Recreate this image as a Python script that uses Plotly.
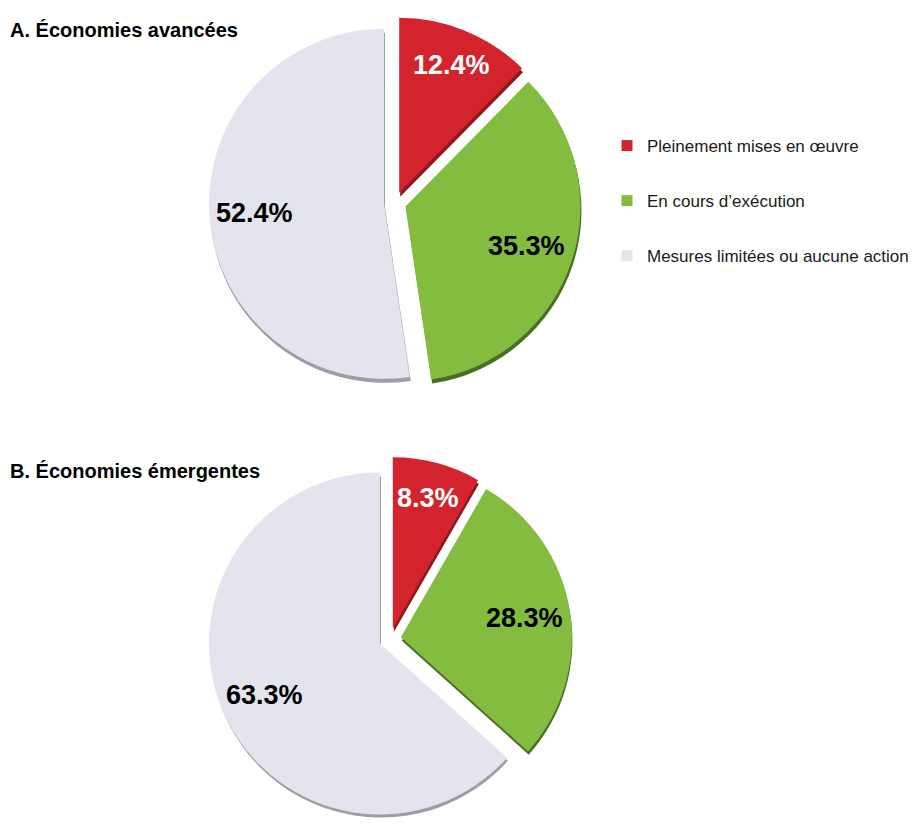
import math
import plotly.graph_objects as go

# Statut de mise en œuvre des mesures, en % des économies
categories = ["Pleinement mises en œuvre", "En cours d’exécution", "Mesures limitées ou aucune action"]
avancees = [12.4, 35.3, 52.4]
emergentes = [8.3, 28.3, 63.3]
panel_titles = ["A. Économies avancées", "B. Économies émergentes"]

colors = ["#d3242d", "#83bc3f", "#e3e4ee"]
side_colors = ["#8c1b1f", "#4c6d24", "#9c9da6"]
label_colors = ["white", "black", "black"]

W, H = 916, 824
FONT = "Liberation Sans, Arial, sans-serif"

# pie geometry in pixels: centre x, centre y, radius, explode (px)
geoms = [
    dict(cx=395, cy=203, r=175, pull=11),
    dict(cx=390, cy=639, r=171, pull=11),
]
depth = (1, 4)  # offset of the darker 3D side
label_radius = [0.79, 0.73, 0.74]  # fraction of radius, measured from the exploded apex


def domain(cx, cy, r, pull):
    half = r + pull
    x0, x1 = (cx - half) / W, (cx + half) / W
    y0, y1 = 1 - (cy + half) / H, 1 - (cy - half) / H
    return dict(x=[max(0, x0), min(1, x1)], y=[max(0, y0), min(1, y1)])


fig = go.Figure()

annotations = []
for k, (vals, g, title) in enumerate(zip([avancees, emergentes], geoms, panel_titles)):
    pull = g["pull"] / g["r"]
    # darker copy underneath, shifted down to give the slices some thickness
    fig.add_trace(go.Pie(
        labels=categories, values=vals, sort=False, direction="clockwise", rotation=0,
        pull=[pull] * 3, marker=dict(colors=side_colors, line=dict(width=0)),
        textinfo="none", hoverinfo="skip", showlegend=False,
        domain=domain(g["cx"] + depth[0], g["cy"] + depth[1], g["r"], g["pull"]),
    ))
    fig.add_trace(go.Pie(
        labels=categories, values=vals, sort=False, direction="clockwise", rotation=0,
        pull=[pull] * 3, marker=dict(colors=colors, line=dict(width=0)),
        textinfo="none", hovertemplate="%{label}: %{value:.1f}%<extra></extra>",
        showlegend=False, domain=domain(g["cx"], g["cy"], g["r"], g["pull"]),
    ))

    # value labels placed along each slice's bisector
    total = sum(vals)
    cum = 0.0
    for i, v in enumerate(vals):
        mid = (cum + v / 2) / total * 2 * math.pi
        cum += v
        dx, dy = math.sin(mid), -math.cos(mid)
        dist = g["pull"] + label_radius[i] * g["r"]
        px, py = g["cx"] + dx * dist, g["cy"] + dy * dist
        annotations.append(dict(
            x=px / W, y=1 - py / H, xref="paper", yref="paper",
            xanchor="center", yanchor="middle", showarrow=False,
            text=f"{v:.1f}%",
            font=dict(family=FONT, size=27, color=label_colors[i], weight="bold"),
        ))

    annotations.append(dict(
        x=8 / W, y=1 - [30, 471][k] / H, xref="paper", yref="paper",
        xanchor="left", yanchor="middle", showarrow=False, text=title,
        font=dict(family=FONT, size=20, color="black", weight="bold"),
    ))

# legend entries
for name, c in zip(categories, colors):
    fig.add_trace(go.Scatter(
        x=[None], y=[None], mode="markers", name=name, legendgroup=name,
        marker=dict(symbol="square", size=11, color=c, line=dict(width=0)),
    ))

fig.update_layout(
    width=W, height=H,
    margin=dict(l=0, r=0, t=0, b=0, autoexpand=False),
    paper_bgcolor="white", plot_bgcolor="white",
    xaxis=dict(visible=False), yaxis=dict(visible=False),
    annotations=annotations,
    showlegend=True,
    legend=dict(
        x=607 / W, y=1 - 128 / H, xanchor="left", yanchor="top",
        font=dict(family=FONT, size=17, color="#1a1a1a"),
        tracegroupgap=30, traceorder="grouped", itemwidth=30,
        bgcolor="rgba(0,0,0,0)",
    ),
)

fig.write_html("out.html")
